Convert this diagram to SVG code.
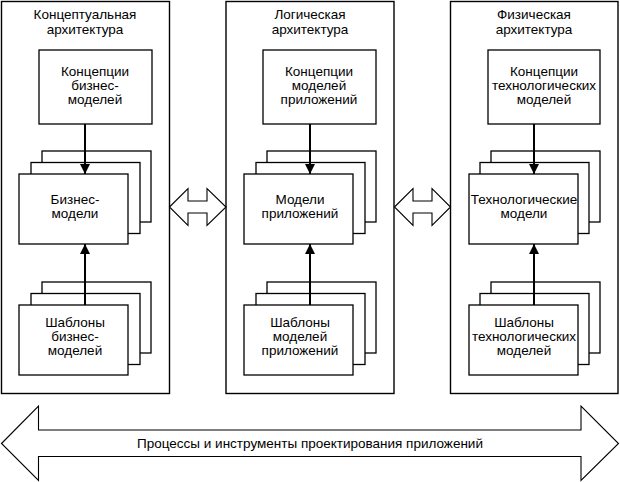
<svg xmlns="http://www.w3.org/2000/svg" width="620" height="482" viewBox="0 0 620 482">
<style>
  .panel{fill:#fff;stroke:#000;stroke-width:1.4}
  .box{fill:#fff;stroke:#000;stroke-width:1.3}
  .dbl{fill:#fff;stroke:#000;stroke-width:1.1;stroke-linejoin:miter}
  .conn{stroke:#000;stroke-width:2;fill:none}
  text{font-family:"Liberation Sans",Arial,sans-serif;font-size:13.5px;fill:#000;text-anchor:middle}
</style>
<defs>
  <marker id="ah" viewBox="0 0 10 10" refX="10" refY="5" markerWidth="5" markerHeight="5" markerUnits="strokeWidth" orient="auto">
    <path d="M0,0 L10,5 L0,10 z" fill="#000"/>
  </marker>
</defs>

<rect x="0" y="0" width="620" height="482" fill="#fff"/>

<!-- Panel 1 -->
<g id="panel-conceptual">
  <rect class="panel" x="1.5" y="1.5" width="168" height="392"/>
  <text x="85" y="19">Концептуальная</text>
  <text x="85" y="34">архитектура</text>
</g>
<g id="concept-business">
  <rect class="box" x="39" y="50" width="113" height="74"/>
  <text x="95" y="76">Концепции</text>
  <text x="95" y="90">бизнес-</text>
  <text x="95" y="104">моделей</text>
</g>
<g id="business-models">
  <rect class="box" x="42" y="151" width="109" height="71"/>
  <rect class="box" x="31" y="162.5" width="109" height="71"/>
  <rect class="box" x="19" y="174" width="109" height="70"/>
  <text x="75" y="204">Бизнес-</text>
  <text x="75" y="218">модели</text>
</g>
<g id="business-templates">
  <rect class="box" x="42" y="282" width="109" height="71"/>
  <rect class="box" x="31" y="293.5" width="109" height="71"/>
  <rect class="box" x="19" y="305" width="109" height="70"/>
  <text x="75" y="327">Шаблоны</text>
  <text x="75" y="341">бизнес-</text>
  <text x="75" y="355">моделей</text>
</g>

<!-- Panel 2 -->
<g id="panel-logical">
  <rect class="panel" x="226" y="1.5" width="168" height="392"/>
  <text x="310" y="19">Логическая</text>
  <text x="310" y="34">архитектура</text>
</g>
<g id="concept-app">
  <rect class="box" x="263" y="50" width="113" height="74"/>
  <text x="319" y="76">Концепции</text>
  <text x="319" y="90">моделей</text>
  <text x="319" y="104">приложений</text>
</g>
<g id="app-models">
  <rect class="box" x="267" y="151" width="109" height="71"/>
  <rect class="box" x="256" y="162.5" width="109" height="71"/>
  <rect class="box" x="244" y="174" width="109" height="70"/>
  <text x="300" y="204">Модели</text>
  <text x="300" y="218">приложений</text>
</g>
<g id="app-templates">
  <rect class="box" x="267" y="282" width="109" height="71"/>
  <rect class="box" x="256" y="293.5" width="109" height="71"/>
  <rect class="box" x="244" y="305" width="109" height="70"/>
  <text x="300" y="327">Шаблоны</text>
  <text x="300" y="341">моделей</text>
  <text x="300" y="355">приложений</text>
</g>

<!-- Panel 3 -->
<g id="panel-physical">
  <rect class="panel" x="450.5" y="1.5" width="167.5" height="392"/>
  <text x="534" y="19">Физическая</text>
  <text x="534" y="34">архитектура</text>
</g>
<g id="concept-tech">
  <rect class="box" x="488" y="50" width="112" height="74"/>
  <text x="544" y="76">Концепции</text>
  <text x="544" y="90">технологических</text>
  <text x="544" y="104">моделей</text>
</g>
<g id="tech-models">
  <rect class="box" x="491" y="151" width="109" height="71"/>
  <rect class="box" x="480" y="162.5" width="109" height="71"/>
  <rect class="box" x="469" y="174" width="109" height="70"/>
  <text x="524" y="204">Технологические</text>
  <text x="524" y="218">модели</text>
</g>
<g id="tech-templates">
  <rect class="box" x="491" y="282" width="109" height="71"/>
  <rect class="box" x="480" y="293.5" width="109" height="71"/>
  <rect class="box" x="469" y="305" width="109" height="70"/>
  <text x="524" y="327">Шаблоны</text>
  <text x="524" y="341">технологических</text>
  <text x="524" y="355">моделей</text>
</g>

<!-- Double arrows between panels -->
<g id="link-1-2">
  <polygon class="dbl" points="169.5,207 188,188.5 188,201 207,201 207,188.5 226,207 207,225.5 207,213 188,213 188,225.5"/>
</g>
<g id="link-2-3">
  <polygon class="dbl" points="394.5,207 413,188.5 413,201 432,201 432,188.5 450.5,207 432,225.5 432,213 413,213 413,225.5"/>
</g>

<!-- Bottom process arrow -->
<g id="process-arrow">
  <polygon class="dbl" points="1.5,443.5 38.5,406 38.5,430 581,430 581,406 618.5,443.5 581,480.5 581,456.5 38.5,456.5 38.5,480.5"/>
  <text x="310" y="448">Процессы и инструменты проектирования приложений</text>
</g>

<!-- Connectors -->
<g id="connectors">
  <line class="conn" x1="85" y1="124" x2="85" y2="174" marker-end="url(#ah)"/>
  <line class="conn" x1="85" y1="305" x2="85" y2="244" marker-end="url(#ah)"/>
  <line class="conn" x1="310" y1="124" x2="310" y2="174" marker-end="url(#ah)"/>
  <line class="conn" x1="310" y1="305" x2="310" y2="244" marker-end="url(#ah)"/>
  <line class="conn" x1="534" y1="124" x2="534" y2="174" marker-end="url(#ah)"/>
  <line class="conn" x1="534" y1="305" x2="534" y2="244" marker-end="url(#ah)"/>
</g>
</svg>
